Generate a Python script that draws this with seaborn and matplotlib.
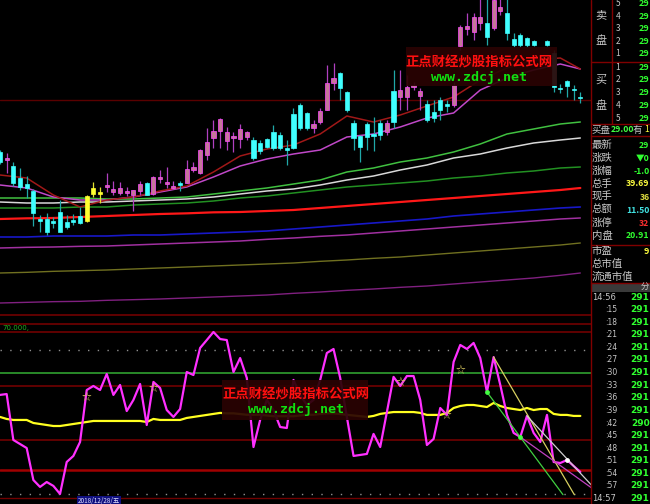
import numpy as np
import pandas as pd
import seaborn as sns
import matplotlib
matplotlib.use("Agg")
import matplotlib.pyplot as plt
from matplotlib.patches import Rectangle
from matplotlib.lines import Line2D

# ---------------- data ----------------
OPEN = [27.24, 27.00, 26.82, 26.46, 26.28, 26.07, 25.23, 25.23, 25.17, 25.44,
        25.14, 25.20, 25.32, 25.17, 25.98, 25.98, 26.19, 26.04, 26.01, 26.01,
        25.95, 26.07, 26.31, 25.98, 26.43, 26.28, 26.16, 26.31, 26.31, 26.70,
        26.61, 27.15, 27.66, 27.87, 27.57, 27.66, 27.63, 27.69, 27.60, 27.51,
        27.63, 27.84, 27.75, 27.36, 28.38, 28.65, 28.41, 27.96, 28.14, 28.50,
        29.31, 29.61, 29.04, 28.11, 27.72, 28.08, 27.78, 28.11, 27.84, 29.07,
        28.89, 28.89, 29.19, 28.92, 28.68, 28.44, 28.80, 28.68, 28.65, 30.42,
        30.93, 30.84, 31.11, 31.11, 30.96, 31.47, 31.41, 30.63, 30.75, 30.66,
        30.57, np.nan, 30.57, 30.21, 29.16, 29.37, 29.13, 28.89]
HIGH = [27.30, 27.21, 26.94, 26.76, 26.52, 26.13, 25.35, 25.41, 25.29, 25.80,
        25.35, 25.38, 25.59, 25.95, 26.34, 26.19, 26.61, 26.37, 26.34, 26.19,
        26.10, 26.37, 26.34, 26.52, 26.70, 26.79, 26.37, 26.37, 27.00, 26.94,
        27.33, 27.96, 28.20, 28.26, 27.99, 27.84, 28.08, 27.87, 27.69, 27.60,
        27.66, 28.05, 27.84, 27.60, 28.56, 28.71, 28.44, 28.20, 28.56, 29.85,
        29.91, 29.64, 29.07, 28.20, 27.75, 28.14, 28.29, 28.20, 28.20, 29.70,
        29.70, 29.55, 29.34, 29.16, 28.80, 28.80, 28.89, 28.80, 29.34, 31.05,
        31.41, 31.41, 32.00, 32.00, 32.10, 32.00, 31.95, 30.81, 30.81, 30.69,
        30.60, np.nan, 30.60, 30.30, 29.28, 29.40, 29.25, 29.04]
LOW = [26.88, 26.61, 26.22, 26.10, 25.86, 25.02, 24.84, 24.75, 24.96, 24.84,
       24.93, 25.05, 25.08, 25.14, 25.89, 25.71, 26.04, 25.95, 25.95, 25.92,
       25.47, 25.95, 25.95, 25.95, 26.31, 26.16, 26.13, 26.07, 26.31, 26.64,
       26.58, 27.00, 27.36, 27.36, 27.30, 27.24, 27.36, 27.60, 27.00, 27.18,
       27.36, 27.30, 27.30, 26.85, 27.33, 27.90, 27.90, 27.81, 28.08, 28.50,
       29.10, 28.80, 28.44, 27.30, 26.94, 27.30, 27.27, 27.60, 27.75, 27.96,
       28.50, 28.50, 29.10, 28.50, 28.14, 28.14, 28.20, 28.44, 28.59, 30.30,
       30.75, 30.60, 30.90, 30.45, 30.90, 31.35, 30.60, 30.39, 30.39, 30.39,
       30.42, np.nan, 30.42, 29.04, 29.01, 28.89, 28.80, 28.71]
CLOSE = [26.94, 27.06, 26.31, 26.19, 26.16, 25.41, 25.17, 24.84, 25.11, 24.84,
         24.99, 25.14, 25.11, 25.92, 26.16, 26.04, 26.25, 26.13, 26.16, 26.07,
         26.10, 26.28, 25.95, 26.49, 26.49, 26.34, 26.22, 26.25, 26.73, 26.79,
         27.30, 27.54, 27.87, 28.23, 27.84, 27.72, 27.93, 27.84, 27.06, 27.27,
         27.39, 27.36, 27.36, 27.30, 27.36, 27.96, 27.96, 28.08, 28.47, 29.31,
         29.46, 29.16, 28.50, 27.66, 27.39, 27.69, 27.72, 27.75, 28.11, 28.14,
         29.10, 29.19, 29.25, 29.07, 28.20, 28.26, 28.50, 28.62, 29.25, 30.99,
         31.02, 31.29, 31.29, 30.69, 31.80, 31.59, 30.81, 30.45, 30.45, 30.45,
         30.45, np.nan, 30.45, 29.19, 29.13, 29.22, 29.10, 28.86]
HIGHLIGHT = [13, 14, 15]

MA_IDX = [0, 4, 8, 12, 16, 20, 24, 28, 32, 36, 40, 44, 48, 52, 56, 60, 64, 68, 72, 76, 80, 84, 87]
MA_A = [26.55, 26.46, 25.95, 25.59, 25.80, 25.89, 26.07, 26.22, 26.64, 27.12, 27.33, 27.45,
        27.78, 28.32, 28.14, 28.35, 28.62, 28.89, 29.40, 29.76, 30.00, 30.06, 29.73]
MA_B = [26.25, 26.16, 25.89, 25.80, 25.80, 25.89, 26.04, 26.19, 26.49, 26.82, 27.03, 27.18,
        27.30, 27.69, 27.78, 27.99, 28.26, 28.41, 29.10, 29.46, 29.70, 29.88, 29.73]
MA_C = [25.86, 25.86, 25.86, 25.86, 25.83, 25.83, 25.86, 25.89, 25.98, 26.07, 26.16, 26.28,
        26.40, 26.64, 26.76, 26.94, 27.06, 27.24, 27.48, 27.78, 27.93, 28.08, 28.14]
MA_D = [25.74, 25.71, 25.71, 25.74, 25.74, 25.77, 25.80, 25.83, 25.89, 25.98, 26.07, 26.13,
        26.25, 26.40, 26.52, 26.70, 26.85, 27.06, 27.18, 27.36, 27.51, 27.60, 27.66]
MA_E = [25.56, 25.56, 25.56, 25.59, 25.59, 25.65, 25.68, 25.71, 25.77, 25.86, 25.92, 26.01,
        26.10, 26.19, 26.25, 26.31, 26.37, 26.46, 26.52, 26.61, 26.67, 26.76, 26.79]
MA_F = [25.23, 25.25, 25.26, 25.29, 25.32, 25.35, 25.38, 25.40, 25.43, 25.44, 25.47, 25.50,
        25.56, 25.62, 25.68, 25.74, 25.80, 25.86, 25.92, 25.98, 26.04, 26.10, 26.16]
MA_G = [24.69, 24.69, 24.72, 24.72, 24.72, 24.75, 24.75, 24.78, 24.81, 24.84, 24.87, 24.93,
        24.99, 25.05, 25.11, 25.17, 25.23, 25.32, 25.38, 25.44, 25.50, 25.56, 25.59]
MA_H = [24.36, 24.38, 24.39, 24.41, 24.42, 24.45, 24.48, 24.51, 24.54, 24.57, 24.62, 24.66,
        24.71, 24.75, 24.81, 24.87, 24.93, 24.99, 25.05, 25.11, 25.17, 25.23, 25.26]
MA_I = [23.61, 23.63, 23.66, 23.68, 23.70, 23.73, 23.76, 23.79, 23.82, 23.85, 23.88, 23.91,
        23.96, 24.00, 24.05, 24.09, 24.15, 24.21, 24.27, 24.33, 24.39, 24.45, 24.51]
MA_J = [22.71, 22.73, 22.75, 22.76, 22.79, 22.81, 22.83, 22.86, 22.89, 22.92, 22.95, 23.00,
        23.04, 23.09, 23.13, 23.18, 23.22, 23.28, 23.34, 23.40, 23.46, 23.54, 23.61]
PRICE_REF = 28.8

IND_K = [68.8, 69.4, 37.5, 34.7, 31.9, 9.7, 4.9, 8.3, 5.6, 0.0,
         22.2, 26.4, 36.1, 72.2, 75.0, 72.2, 83.3, 68.8, 75.7, 57.6,
         65.3, 76.4, 47.9, 77.8, 73.6, 58.3, 53.5, 59.0, 84.7, 82.6,
         101.4, 106.9, 112.5, 107.6, 106.9, 84.7, 94.4, 80.6, 32.6, 51.4,
         65.3, 58.3, 46.5, 45.8, 79.2, 68.8, 61.8, 65.3, 79.2, 97.9,
         100.7, 80.6, 53.5, 26.4, 27.1, 27.8, 41.7, 32.6, 56.9, 81.3,
         75.0, 81.9, 81.9, 65.3, 34.0, 38.2, 59.7, 54.9, 91.7, 103.5,
         100.7, 104.9, 94.4, 70.8, 95.1, 75.7, 54.9, 42.4, 39.6, 54.2,
         42.4, 36.1, 54.9, 22.2, 21.5, 23.6, 19.4, 15.3]
IND_D = [53.5, 52.1, 51.4, 51.4, 51.4, 49.3, 48.6, 47.9, 47.2, 47.2,
         47.9, 48.6, 49.3, 50.0, 50.7, 50.7, 50.7, 50.7, 50.7, 50.7,
         50.7, 50.7, 50.0, 52.1, 51.4, 51.4, 51.4, 51.4, 52.8, 53.5,
         54.2, 54.9, 55.6, 56.3, 56.0, 56.0, 55.5, 55.0, 55.0, 55.0,
         54.5, 54.0, 54.0, 54.0, 54.0, 54.5, 55.0, 55.0, 55.5, 56.0,
         56.0, 55.5, 55.0, 54.5, 54.0, 53.5, 54.2, 55.6, 56.3, 56.9,
         56.9, 56.9, 56.9, 56.3, 54.9, 54.9, 54.9, 56.3, 59.7, 61.1,
         61.8, 61.8, 61.1, 60.4, 63.2, 61.1, 59.7, 59.0, 58.3, 59.7,
         58.3, 59.0, 59.0, 55.6, 54.9, 54.9, 54.2, 54.2]
LEVELS_DARKRED = [118.1, 112.5, 75.0, 37.5]
LEVEL_GREEN = 84.0
LEVEL_RED = 16.7
LEVELS_DOTTED = [100.0, 0.0]
STAR_IDX = [13, 23, 60, 67, 69]
STAR_VAL = [67.4, 73.6, 77.8, 54.9, 86.1]
TREND_LINES = {  # (start idx, start val, end idx, end val)
    '#d8d060': (74, 95.1, 86.1, -0.5),
    '#40d040': (73, 70.8, 84.4, -0.5),
    '#d0d0d0': (79, 54.2, 88.8, 5.5),
    '#c040c0': (78, 39.6, 88.9, 3.5),
}

SELL_NUMS = ['5', '4', '3', '2', '1']
BUY_NUMS = ['1', '2', '3', '4', '5']
BOOK_PRICE = '29'
STAT_LABELS = ['最新', '涨跌', '涨幅', '总手', '现手', '总额', '涨停', '内盘']
STAT_VALUES = ['29', '▼0', '-1.0', '39.69', '36', '11.50', '32', '20.91']
STAT_COLORS = ['#30ff30', '#30ff30', '#30ff30', '#ffff40', '#e0e040', '#40e0e0', '#ff3030', '#30ff30']
EXTRA_LABELS = ['市盈', '总市值', '流通市值']
EXTRA_VALUES = ['9', '', '']
TICK_TIMES = ['14:56', ':15', ':18', ':21', ':24', ':27', ':30', ':33', ':36',
              ':39', ':42', ':45', ':48', ':51', ':54', ':57', '14:57']
TICK_PRICES = ['291', '291', '291', '291', '291', '291', '291', '291', '291',
               '291', '290', '291', '291', '291', '291', '291', '291']
WATERMARK = '正点财经炒股指标公式网'
WATERMARK_URL = 'www.zdcj.net'
DATE_LABEL = '2018/12/28/五'

# ---------------- style ----------------
sns.set_theme(style="dark", rc={"axes.facecolor": "black", "figure.facecolor": "black"})
plt.rcParams['font.family'] = ['Noto Sans CJK SC', 'DejaVu Sans']

W, H = 650, 504
fig = plt.figure(figsize=(W / 100, H / 100), dpi=100)
fig.patch.set_facecolor('black')


def fx(x):
    return x / W


def fy(y):
    return 1 - y / H


ax_top = fig.add_axes([0, fy(315), fx(591), 315 / H])
ax_bot = fig.add_axes([0, fy(499), fx(591), (499 - 315) / H])
for ax in (ax_top, ax_bot):
    ax.set_axis_off()
    ax.set_xlim(0, 88.6)
ax_top.set_ylim(22.35, 31.8)
ax_bot.set_ylim(-3.5, 124.3)

# ---------------- price panel ----------------
ax_top.axhline(PRICE_REF, color='#5a0000', lw=1, zorder=1)

ma_styles = [(MA_J, '#802080', 1.0), (MA_I, '#707020', 1.0), (MA_H, '#a030a0', 1.1),
             (MA_G, '#1818c8', 1.2), (MA_F, '#ff1818', 1.6), (MA_E, '#229022', 1.1),
             (MA_D, '#d8d8d8', 1.1), (MA_C, '#40c040', 1.1), (MA_B, '#c048c8', 1.1),
             (MA_A, '#a01818', 1.1)]
for vals, col, lw in ma_styles:
    sns.lineplot(x=MA_IDX, y=vals, ax=ax_top, color=col, linewidth=lw, zorder=2)

df = pd.DataFrame({'open': OPEN, 'high': HIGH, 'low': LOW, 'close': CLOSE})
df['idx'] = np.arange(len(df))
df = df.dropna()
up = df['close'] >= df['open']
face, edge, wick = [], [], []
for i, u in zip(df['idx'], up):
    if i in HIGHLIGHT:
        face.append('#ffff30'); edge.append('#ffff30'); wick.append('#e0e030')
    elif u:
        face.append('#c47898'); edge.append('#ff48ff'); wick.append('#b040c0')
    else:
        face.append('#40ffff'); edge.append('#40ffff'); wick.append('#20a8a8')
ax_top.vlines(df['idx'], df['low'], df['high'], colors=wick, linewidth=0.9, zorder=3)
ax_top.bar(df['idx'], np.maximum((df['close'] - df['open']).abs(), 0.035),
           bottom=np.minimum(df['open'], df['close']), width=0.62,
           color=face, edgecolor=edge, linewidth=0.5, zorder=4)

# ---------------- indicator panel ----------------
for lv in LEVELS_DARKRED:
    ax_bot.axhline(lv, color='#700000', lw=1.2, zorder=1)
ax_bot.axhline(LEVEL_GREEN, color='#30a030', lw=1.2, zorder=1)
ax_bot.axhline(LEVEL_RED, color='#a00000', lw=1.8, zorder=1)
for lv in LEVELS_DOTTED:
    ax_bot.axhline(lv, color='#909090', lw=1, linestyle=(0, (1, 6)), zorder=1)

idx = np.arange(len(IND_K))
sns.lineplot(x=idx, y=IND_D, ax=ax_bot, color='#ffff20', linewidth=1.6, zorder=3)
sns.lineplot(x=idx, y=IND_K, ax=ax_bot, color='#ff30ff', linewidth=1.6, zorder=4)
for col, (a, va, b, vb) in TREND_LINES.items():
    sns.lineplot(x=[a, b], y=[va, vb], ax=ax_bot, color=col, linewidth=0.9, zorder=5)
ax_bot.scatter([73, 78], [IND_K[73], IND_K[78]], s=6, color='#40ff40', zorder=6)
ax_bot.scatter([85], [IND_K[85]], s=6, color='#ffffff', zorder=6)
for i, v in zip(STAR_IDX, STAR_VAL):
    ax_bot.text(i, v, '☆', color='#d8c860', fontsize=7, ha='center', va='center', zorder=6)
ax_bot.text(0.3, 115.6, '70.000,', color='#20b020', fontsize=5, ha='left', va='center',
            family=['DejaVu Sans'])

# ---------------- frame lines ----------------
def hline(y, x0, x1, color='#800000', lw=1.0):
    fig.add_artist(Line2D([fx(x0), fx(x1)], [fy(y), fy(y)], color=color, lw=lw,
                          transform=fig.transFigure))


def vline(x, y0, y1, color='#800000', lw=1.0):
    fig.add_artist(Line2D([fx(x), fx(x)], [fy(y0), fy(y1)], color=color, lw=lw,
                          transform=fig.transFigure))


hline(315, 0, 591, '#700000', 1.2)
hline(498, 0, 591, '#700000', 1.0)
vline(591, 0, 504)
vline(612, 0, 124)
for y in (62, 124, 136, 245, 283):
    hline(y, 591, 650)

# ---------------- watermarks ----------------
for (bx0, by0, bx1, by1, tx, ty1, ty2) in [(406, 47, 557, 86, 479, 62, 77),
                                           (222, 380, 368, 420, 296, 394, 410)]:
    fig.add_artist(Rectangle((fx(bx0), fy(by1)), fx(bx1) - fx(bx0), fy(by0) - fy(by1),
                             transform=fig.transFigure, facecolor='#2a0303',
                             edgecolor='none', alpha=0.93, zorder=5))
    fig.text(fx(tx), fy(ty1), WATERMARK, color='#ff1010', fontsize=9.6, fontweight='bold',
             ha='center', va='center', zorder=6)
    fig.text(fx(tx), fy(ty2), WATERMARK_URL, color='#10e010', fontsize=9.6, fontweight='bold',
             ha='center', va='center', family=['DejaVu Sans Mono'], zorder=6)

# ---------------- date label ----------------
fig.text(fx(99), fy(500.5), DATE_LABEL, color='#e0e0ff', fontsize=4.6, ha='center', va='center',
         bbox=dict(boxstyle='square,pad=0.12', facecolor='#101080', edgecolor='none'))

# ---------------- right side quote panel ----------------
grey = '#c8c8c8'
RX = 649.5
for k, n in enumerate(SELL_NUMS):
    y = 4 + k * 12.4
    fig.text(fx(618), fy(y), n, color=grey, fontsize=6, ha='center', va='center')
    fig.text(fx(RX), fy(y), BOOK_PRICE, color='#30ff30', fontsize=6.5, fontweight='bold',
             ha='right', va='center')
for k, n in enumerate(BUY_NUMS):
    y = 67 + k * 12.8
    fig.text(fx(618), fy(y), n, color=grey, fontsize=6, ha='center', va='center')
    fig.text(fx(RX), fy(y), BOOK_PRICE, color='#30ff30', fontsize=6.5, fontweight='bold',
             ha='right', va='center')
for ch, y in (('卖', 15), ('盘', 41), ('买', 80), ('盘', 106)):
    fig.text(fx(601), fy(y), ch, color=grey, fontsize=8, ha='center', va='center')

fig.text(fx(591.5), fy(130), '买盘', color=grey, fontsize=6.8, ha='left', va='center')
fig.text(fx(610.5), fy(130), '29.00', color='#40ff40', fontsize=6.2, fontweight='bold',
         ha='left', va='center')
fig.text(fx(633), fy(130), '有', color=grey, fontsize=6.8, ha='left', va='center')
fig.text(fx(RX), fy(130), '1', color='#ffff40', fontsize=6.2, ha='right', va='center')

for k, (lab, val, col) in enumerate(zip(STAT_LABELS, STAT_VALUES, STAT_COLORS)):
    y = 145 + k * 13.0
    fig.text(fx(592), fy(y), lab, color=grey, fontsize=7.5, ha='left', va='center')
    fig.text(fx(RX), fy(y), val, color=col, fontsize=6.2, fontweight='bold',
             ha='right', va='center')
for k, (lab, val) in enumerate(zip(EXTRA_LABELS, EXTRA_VALUES)):
    y = 251 + k * 13.0
    fig.text(fx(592), fy(y), lab, color=grey, fontsize=7.5, ha='left', va='center')
    if val:
        fig.text(fx(RX), fy(y), val, color='#ffff40', fontsize=6.5, fontweight='bold',
                 ha='right', va='center')

fig.add_artist(Rectangle((fx(592), fy(292)), fx(650) - fx(592), fy(283) - fy(292),
                         transform=fig.transFigure, facecolor='#3a3a3a', edgecolor='none'))
fig.text(fx(RX), fy(287.5), '分', color=grey, fontsize=6, ha='right', va='center')
for k, (t, p) in enumerate(zip(TICK_TIMES, TICK_PRICES)):
    y = 297 + k * 12.6
    if t.startswith('14'):
        fig.text(fx(592), fy(y), t, color=grey, fontsize=6, ha='left', va='center',
                 family=['DejaVu Sans'])
    else:
        fig.text(fx(617), fy(y), t, color=grey, fontsize=5.5, ha='right', va='center',
                 family=['DejaVu Sans'])
    fig.text(fx(RX), fy(y), p, color='#30ff30', fontsize=6.5, fontweight='bold',
             ha='right', va='center', family=['DejaVu Sans'])

fig.savefig('out.png', dpi=100, facecolor='black')
